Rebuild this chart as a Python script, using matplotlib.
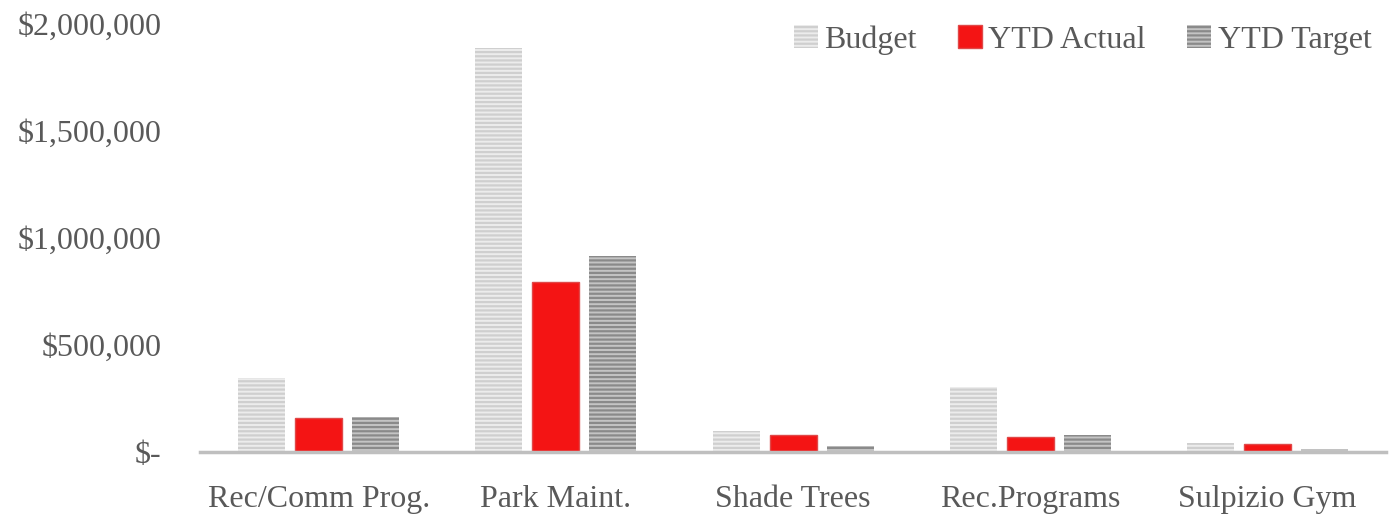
import numpy as np
import matplotlib
matplotlib.use("Agg")
import matplotlib.pyplot as plt
from matplotlib.ticker import FuncFormatter

# data
categories = ["Rec/Comm Prog.", "Park Maint.", "Shade Trees", "Rec.Programs", "Sulpizio Gym"]
budget = [346000, 1888000, 98000, 304000, 42000]
ytd_actual = [159000, 794000, 79000, 70000, 37000]
ytd_target = [163000, 916000, 28000, 79000, 14000]

plt.rcParams["font.family"] = ["Liberation Serif", "DejaVu Serif"]
plt.rcParams["hatch.linewidth"] = 1.6

fig = plt.figure(figsize=(13.96, 5.17), dpi=100)
ax = fig.add_axes([0.1433, 0.1257, 0.8497, 0.828])

x = np.arange(len(categories))
w = 0.198
step = 0.24

ax.bar(x - step, budget, w, color="#ececec", edgecolor="#cfcfcf", linewidth=0,
       hatch="----", label="Budget")
ax.bar(x, ytd_actual, w, color="#f41414", edgecolor="#e04848", linewidth=1.0,
       label="YTD Actual")
ax.bar(x + step, ytd_target, w, color="#c4c4c4", edgecolor="#8a8a8a", linewidth=0,
       hatch="----", label="YTD Target")

ax.set_xlim(-0.5, len(categories) - 0.5)
ax.set_ylim(0, 2000000)
ax.set_yticks([0, 500000, 1000000, 1500000, 2000000])
ax.yaxis.set_major_formatter(FuncFormatter(lambda v, p: "$-" if v == 0 else f"${v:,.0f}"))
ax.set_xticks(x)
ax.set_xticklabels(categories)

for s in ["top", "right", "left"]:
    ax.spines[s].set_visible(False)
ax.spines["bottom"].set_color("#bfbfbf")
ax.spines["bottom"].set_linewidth(2.5)
ax.tick_params(axis="both", length=0, labelsize=23, colors="#595959")
ax.tick_params(axis="x", pad=24)
ax.tick_params(axis="y", pad=28)

ax.legend(loc="upper right", ncol=3, frameon=False, fontsize=23, labelcolor="#595959",
          handlelength=0.75, handleheight=0.75, handletextpad=0.2, columnspacing=1.3,
          bbox_to_anchor=(1.012, 1.065))

fig.savefig("out.png", dpi=100)
